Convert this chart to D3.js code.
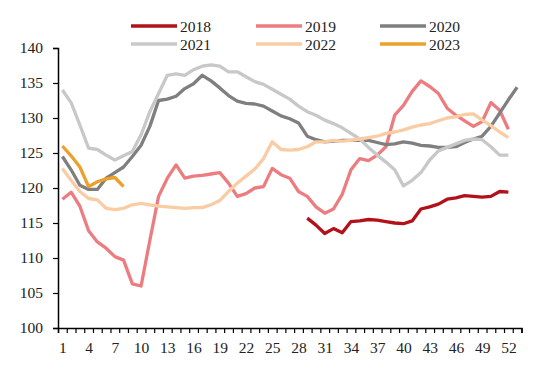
<!DOCTYPE html>
<html>
<head>
<meta charset="utf-8">
<script src="https://cdn.jsdelivr.net/npm/d3@7"></script>
<style>
  html, body { margin: 0; padding: 0; background: #fff; }
  svg { display: block; }
</style>
</head>
<body>
<svg id="chart" width="550" height="375"></svg>
<script>
const weeks = d3.range(1, 54);
const xTickLabels = [1, 4, 7, 10, 13, 16, 19, 22, 25, 28, 31, 34, 37, 40, 43, 46, 49, 52];
const yTicks = [100, 105, 110, 115, 120, 125, 130, 135, 140];
const seriesNames = ["2018", "2019", "2020", "2021", "2022", "2023"];
const seriesColors = ["#B3111A", "#EC7C80", "#7F7F7F", "#C8C8C8", "#F9CCA3", "#EBA12B"];

// 2018 starts at week 29
const v2018 = [115.7, 114.7, 113.5, 114.2, 113.6, 115.2, 115.3, 115.5, 115.4, 115.2, 115.0, 114.9, 115.3, 117.0,
  117.3, 117.7, 118.4, 118.6, 118.9, 118.8, 118.7, 118.8, 119.5, 119.4];
const v2019 = [118.4, 119.4, 117.4, 113.9, 112.3, 111.4, 110.2, 109.7, 106.3, 106.0, 112.5, 118.8, 121.4, 123.3,
  121.4, 121.7, 121.8, 122.0, 122.2, 120.7, 118.8, 119.2, 120.0, 120.2, 122.8, 121.9, 121.4, 119.5, 118.8, 117.3,
  116.4, 117.0, 119.1, 122.6, 124.2, 123.9, 124.7, 125.9, 130.4, 131.8, 133.8, 135.3, 134.5, 133.5, 131.4, 130.4,
  129.6, 128.8, 129.5, 132.2, 131.1, 128.4];
const v2020 = [124.5, 122.6, 120.4, 119.8, 119.8, 121.4, 122.2, 123.0, 124.5, 126.1, 128.8, 132.5, 132.7, 133.1,
  134.2, 134.9, 136.1, 135.3, 134.3, 133.2, 132.4, 132.1, 132.0, 131.7, 131.0, 130.3, 129.9, 129.3, 127.4, 126.9,
  126.6, 126.7, 126.8, 126.8, 126.8, 126.8, 126.5, 126.2, 126.3, 126.6, 126.4, 126.1, 126.0, 125.8, 125.8, 125.9,
  126.5, 127.0, 127.4, 128.8, 130.7, 132.6, 134.4];
const v2021 = [134.0, 132.2, 129.0, 125.7, 125.5, 124.7, 124.0, 124.6, 125.2, 127.6, 130.9, 133.5, 136.1, 136.3,
  136.1, 136.9, 137.4, 137.6, 137.4, 136.6, 136.6, 135.9, 135.2, 134.8, 134.1, 133.4, 132.7, 131.7, 130.9, 130.4,
  129.7, 129.2, 128.6, 127.8, 127.0, 125.8, 124.7, 123.7, 122.6, 120.3, 121.1, 122.2, 124.0, 125.3, 125.8, 126.3,
  126.8, 127.0, 126.9, 125.9, 124.7, 124.7];
const v2022 = [122.8, 121.1, 119.5, 118.5, 118.3, 117.1, 116.9, 117.1, 117.6, 117.8, 117.6, 117.4, 117.3, 117.2,
  117.1, 117.2, 117.2, 117.6, 118.2, 119.5, 120.7, 121.7, 122.7, 124.2, 126.6, 125.5, 125.4, 125.5, 125.9, 126.6,
  126.6, 126.8, 126.7, 126.8, 127.0, 127.2, 127.4, 127.8, 128.0, 128.3, 128.7, 129.0, 129.2, 129.6, 130.0, 130.2,
  130.5, 130.6, 129.7, 128.9, 128.0, 127.2];
const v2023 = [126.0, 124.6, 123.0, 120.2, 120.9, 121.3, 121.5, 120.2];

const seriesValues = [v2018, v2019, v2020, v2021, v2022, v2023];
const seriesStart = [29, 1, 1, 1, 1, 1];

const svg = d3.select("#chart");
const font = "'Liberation Serif', 'Times New Roman', serif";
const fs = 15.5;

const x = d3.scaleLinear().domain([0.5, 53.5]).range([58, 521.5]);
const y = d3.scaleLinear().domain([100, 140]).range([328, 48]);

// Lines
const line = d3.line().x(d => x(d.w)).y(d => y(d.v));
seriesNames.forEach((name, i) => {
  const data = seriesValues[i].map((v, j) => ({ w: seriesStart[i] + j, v }));
  svg.append("path")
    .datum(data)
    .attr("fill", "none")
    .attr("stroke", seriesColors[i])
    .attr("stroke-width", 3.3)
    .attr("stroke-linejoin", "round")
    .attr("d", line);
});

// Y axis
const yAxis = svg.append("g")
  .attr("transform", `translate(${x(0.5)},0)`)
  .call(d3.axisLeft(y).tickValues(yTicks).tickSize(5).tickPadding(10).tickFormat(d3.format("d")));
yAxis.select(".domain").attr("stroke", "#000").attr("stroke-width", 1.5);
yAxis.selectAll(".tick line").attr("stroke", "#000").attr("stroke-width", 1.2);
yAxis.selectAll("text").attr("font-family", font).attr("font-size", fs).attr("fill", "#222");

// X axis: tick marks at category boundaries, labels at category centres
const xAxisG = svg.append("g").attr("transform", `translate(0,${y(100)})`);
const boundaries = d3.range(0.5, 54, 1);
xAxisG.call(d3.axisBottom(x).tickValues(boundaries).tickSize(5).tickFormat(""));
xAxisG.select(".domain").attr("stroke", "#000").attr("stroke-width", 1.5);
xAxisG.selectAll(".tick line").attr("stroke", "#000").attr("stroke-width", 1.2);
const xLabelsG = svg.append("g").attr("transform", `translate(0,${y(100)})`);
xLabelsG.call(d3.axisBottom(x).tickValues(xTickLabels).tickSize(0).tickPadding(14).tickFormat(d3.format("d")));
xLabelsG.select(".domain").remove();
xLabelsG.selectAll("text").attr("font-family", font).attr("font-size", fs).attr("fill", "#222");

// Legend
const legendX = [131, 256, 380];
const legendY = [26, 44];
seriesNames.forEach((name, i) => {
  const lx = legendX[i % 3], ly = legendY[Math.floor(i / 3)];
  const g = svg.append("g");
  g.append("line")
    .attr("x1", lx).attr("x2", lx + 46)
    .attr("y1", ly).attr("y2", ly)
    .attr("stroke", seriesColors[i]).attr("stroke-width", 3.5);
  g.append("text")
    .attr("x", lx + 49).attr("y", ly + 5.5)
    .attr("font-family", font).attr("font-size", fs).attr("fill", "#222")
    .text(name);
});
</script>
</body>
</html>
